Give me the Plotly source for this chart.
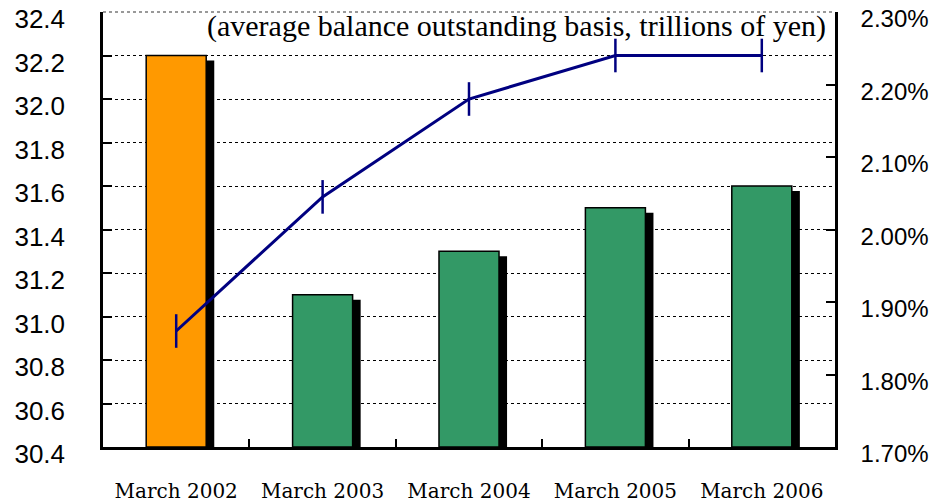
import plotly.graph_objects as go

categories = ["March 2002", "March 2003", "March 2004", "March 2005", "March 2006"]
balance = [32.2, 31.1, 31.3, 31.5, 31.6]          # trillions of yen (left axis)
rate = [1.86, 2.045, 2.18, 2.24, 2.24]             # percent (right axis)
bar_colors = ["#FF9900", "#339966", "#339966", "#339966", "#339966"]
left_ticks = [30.4, 30.6, 30.8, 31.0, 31.2, 31.4, 31.6, 31.8, 32.0, 32.2, 32.4]
right_ticks = [1.70, 1.80, 1.90, 2.00, 2.10, 2.20, 2.30]
right_labels = ["1.70%", "1.80%", "1.90%", "2.00%", "2.10%", "2.20%", "2.30%"]

Y_MIN, Y_MAX = 30.4, 32.4
BAR_W = 0.41
SH_DX = 0.055     # shadow horizontal shift (category units)
SH_DY = 0.023     # shadow vertical shift (value units)

fig = go.Figure()

# drop shadows
fig.add_trace(go.Bar(
    x=categories, y=[v - SH_DY - (Y_MIN - SH_DY) for v in balance],
    base=Y_MIN - SH_DY, width=BAR_W, offset=-BAR_W / 2 + SH_DX,
    marker=dict(color="black", line=dict(width=0)),
    cliponaxis=False, showlegend=False, hoverinfo="skip"))

# main bars
fig.add_trace(go.Bar(
    x=categories, y=[v - Y_MIN for v in balance], base=Y_MIN,
    width=BAR_W, offset=-BAR_W / 2,
    marker=dict(color=bar_colors, line=dict(color="black", width=1.5)),
    showlegend=False))

# line on right axis
fig.add_trace(go.Scatter(
    x=categories, y=rate, yaxis="y2", mode="lines+markers",
    line=dict(color="#000080", width=3),
    marker=dict(symbol="line-ns", size=24, line=dict(color="#000080", width=2.5)),
    showlegend=False))

fig.update_layout(
    width=929, height=502,
    margin=dict(l=103, r=94, t=12, b=55),
    paper_bgcolor="white", plot_bgcolor="white",
    barmode="overlay",
    xaxis=dict(type="category", range=[-0.5, 4.5], tickson="boundaries",
               ticks="inside", ticklen=8, tickwidth=1.5, tickcolor="black",
               showline=True, linecolor="black", linewidth=2.5,
               showgrid=False, automargin=False,
               tickfont=dict(family="DejaVu Serif", size=20, color="black"),
               ticklabelstandoff=24),
    yaxis=dict(range=[Y_MIN, Y_MAX], tickvals=left_ticks, tickformat=".1f",
               ticks="inside", ticklen=9, tickwidth=1.5, tickcolor="black",
               showline=True, linecolor="black", linewidth=2.5,
               showgrid=True, gridcolor="black", griddash="dot", gridwidth=1.2,
               zeroline=False, automargin=False,
               tickfont=dict(family="Liberation Sans", size=26, color="black"),
               ticklabelstandoff=30, ticklabelshift=7),
    yaxis2=dict(range=[1.70, 2.30], tickvals=right_ticks, ticktext=right_labels,
                overlaying="y", side="right",
                ticks="inside", ticklen=9, tickwidth=1.5, tickcolor="black",
                showline=True, linecolor="black", linewidth=2.5,
                showgrid=False, zeroline=False, automargin=False,
                tickfont=dict(family="Liberation Sans", size=24, color="black"),
                ticklabelstandoff=18, ticklabelshift=7),
    shapes=[dict(type="line", xref="paper", yref="paper", x0=0, x1=1, y0=1, y1=1,
                 line=dict(color="#999999", width=2, dash="dot"))],
    annotations=[dict(text="(average balance outstanding basis, trillions of yen)",
                      xref="paper", yref="paper", x=1, y=0.968,
                      xanchor="right", yanchor="middle", xshift=-7,
                      showarrow=False,
                      font=dict(family="Liberation Serif", size=30, color="black"))],
)

fig.write_html("out.html",
               config={"displayModeBar": False},
               post_script="document.body.style.margin='0';document.body.style.overflow='hidden';")
